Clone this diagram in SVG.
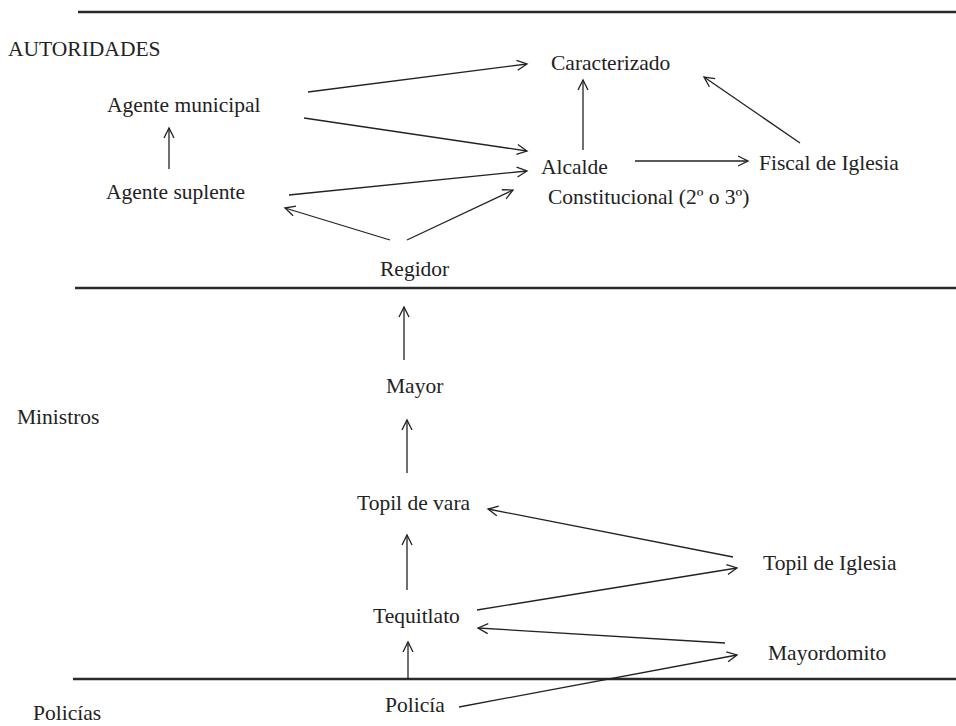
<svg xmlns="http://www.w3.org/2000/svg" width="956" height="726" viewBox="0 0 956 726">
<style>
.t{font-family:"Liberation Serif","Times New Roman",serif;font-size:21.5px;fill:#222}
.rule{stroke:#2a2a2a;stroke-width:2.5;fill:none}
.c{stroke:#222;stroke-width:1.3;fill:none;marker-end:url(#ah)}
</style>
<defs>
<marker id="ah" markerUnits="userSpaceOnUse" markerWidth="14" markerHeight="14" viewBox="0 0 14 14" refX="11" refY="7" orient="auto">
<path d="M1,2 L11,7 L1,12" fill="none" stroke="#222" stroke-width="1.3"/>
</marker>
</defs>
<rect width="956" height="726" fill="#fff"/>
<g id="rules">
<line class="rule" x1="78" y1="12" x2="956" y2="12"/>
<line class="rule" x1="75" y1="288" x2="956" y2="288"/>
<line class="rule" x1="73" y1="679" x2="956" y2="679"/>
</g>
<g id="labels">
<text class="t" x="8" y="56">AUTORIDADES</text>
<text class="t" x="17" y="424">Ministros</text>
<text class="t" x="33" y="720">Policías</text>
</g>
<g id="n-agente-municipal"><text class="t" x="107" y="112">Agente municipal</text></g>
<g id="n-agente-suplente"><text class="t" x="106" y="199">Agente suplente</text></g>
<g id="n-regidor"><text class="t" x="380" y="276">Regidor</text></g>
<g id="n-caracterizado"><text class="t" x="551" y="70">Caracterizado</text></g>
<g id="n-alcalde"><text class="t" x="541" y="174">Alcalde</text><text class="t" x="548" y="204">Constitucional (2º o 3º)</text></g>
<g id="n-fiscal"><text class="t" x="759" y="170">Fiscal de Iglesia</text></g>
<g id="n-mayor"><text class="t" x="386" y="393">Mayor</text></g>
<g id="n-topil-vara"><text class="t" x="357" y="510">Topil de vara</text></g>
<g id="n-topil-iglesia"><text class="t" x="763" y="570">Topil de Iglesia</text></g>
<g id="n-tequitlato"><text class="t" x="373" y="623">Tequitlato</text></g>
<g id="n-mayordomito"><text class="t" x="768" y="660">Mayordomito</text></g>
<g id="n-policia"><text class="t" x="385" y="712">Policía</text></g>
<g id="connectors">
<line class="c" x1="169" y1="169" x2="169" y2="128"/>
<line class="c" x1="308" y1="92" x2="527" y2="64"/>
<line class="c" x1="304" y1="118" x2="527" y2="151"/>
<line class="c" x1="289" y1="195" x2="527" y2="171"/>
<line class="c" x1="390" y1="240" x2="285" y2="208"/>
<line class="c" x1="407" y1="240" x2="513" y2="190"/>
<line class="c" x1="583" y1="150" x2="583" y2="80"/>
<line class="c" x1="635" y1="161" x2="748" y2="161"/>
<line class="c" x1="800" y1="143" x2="704" y2="77"/>
<line class="c" x1="404" y1="360" x2="404" y2="307"/>
<line class="c" x1="407" y1="473" x2="407" y2="420"/>
<line class="c" x1="407" y1="590" x2="407" y2="535"/>
<line class="c" x1="408" y1="679" x2="408" y2="642"/>
<line class="c" x1="733" y1="557" x2="488" y2="509"/>
<line class="c" x1="477" y1="610" x2="737" y2="568"/>
<line class="c" x1="725" y1="643" x2="478" y2="628"/>
<line class="c" x1="459" y1="707" x2="737" y2="655"/>
</g>
</svg>
